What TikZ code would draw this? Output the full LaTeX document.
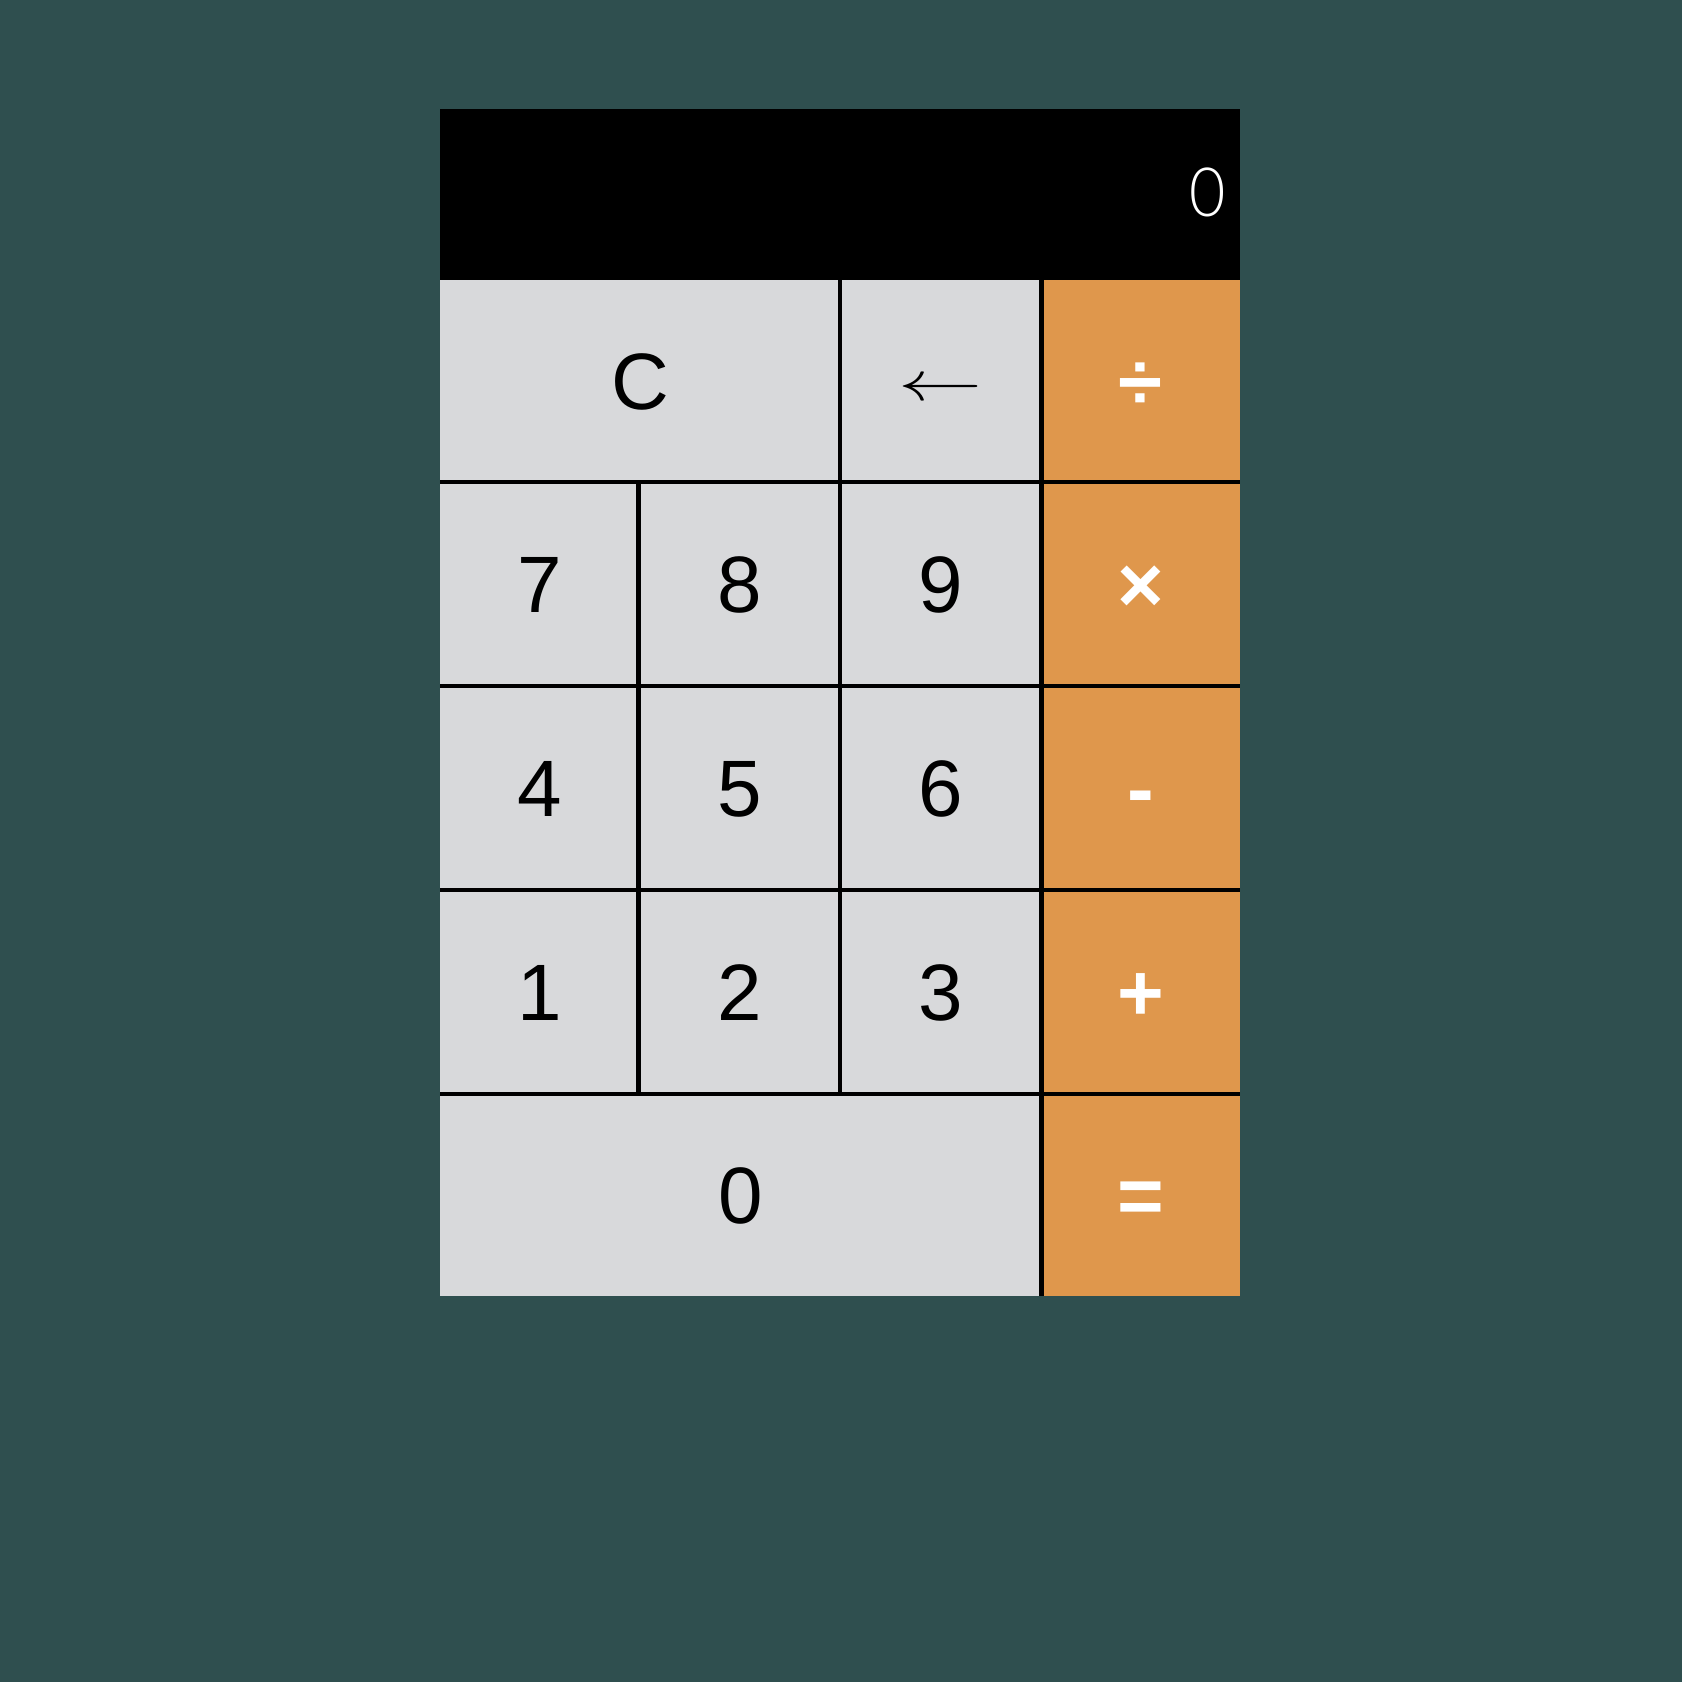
\documentclass[tikz,border=0pt]{standalone}
\usepackage{fontspec}
\setmainfont{Liberation Sans}
\newfontfamily\thinfont{Lato Light}
\definecolor{bgc}{HTML}{2F4F4F}
\definecolor{keyc}{HTML}{D8D9DB}
\definecolor{opc}{HTML}{DF974C}
\begin{document}
\begin{tikzpicture}[x=1pt,y=-1pt,
  key/.style={fill=keyc, draw=none, inner sep=0pt, outer sep=0pt,
    text height=57pt, text depth=0pt, font=\fontsize{80}{96}\selectfont, text=black},
  opkey/.style={key, fill=opc, text=white, font=\fontsize{80}{96}\selectfont\bfseries},
  gridline/.style={line width=4.5pt, black}]
% background and fixed bounding box
\fill[bgc] (0,0) rectangle (1682,1682);
\useasboundingbox (0,0) rectangle (1682,1682);
% display
\node[fill=black, inner sep=0pt, outer sep=0pt, minimum width=800pt, minimum height=171pt] (disp) at (840,194.5) {};
\node[anchor=base east, inner sep=0pt, text=white, font=\thinfont\fontsize{68}{82}\selectfont] (dval) at (1226,216) {\scalebox{0.92}[1]{0}};
% row 1
\node[key, minimum width=400pt, minimum height=202pt] (bC) at (640,381) {C};
\node[key, minimum width=201.5pt, minimum height=202pt, text height=38.5pt] (bBS) at (940.75,381) {\scalebox{8.4}[5.6]{\fontsize{10}{12}\selectfont$\leftarrow$}};
\node[opkey, minimum width=198.5pt, minimum height=202pt] (bDiv) at (1140.75,381) {÷};
% row 2
\node[key, minimum width=198.5pt, minimum height=204pt] (b7) at (539.25,584) {7};
\node[key, minimum width=201.5pt, minimum height=204pt] (b8) at (739.25,584) {8};
\node[key, minimum width=201.5pt, minimum height=204pt] (b9) at (940.75,584) {9};
\node[opkey, minimum width=198.5pt, minimum height=204pt] (bMul) at (1140.75,584) {×};
% row 3
\node[key, minimum width=198.5pt, minimum height=204pt] (b4) at (539.25,788) {4};
\node[key, minimum width=201.5pt, minimum height=204pt] (b5) at (739.25,788) {5};
\node[key, minimum width=201.5pt, minimum height=204pt] (b6) at (940.75,788) {6};
\node[opkey, minimum width=198.5pt, minimum height=204pt] (bSub) at (1140.75,788) {-};
% row 4
\node[key, minimum width=198.5pt, minimum height=204pt] (b1) at (539.25,992) {1};
\node[key, minimum width=201.5pt, minimum height=204pt] (b2) at (739.25,992) {2};
\node[key, minimum width=201.5pt, minimum height=204pt] (b3) at (940.75,992) {3};
\node[opkey, minimum width=198.5pt, minimum height=204pt] (bAdd) at (1140.75,992) {+};
% row 5
\node[key, minimum width=601.5pt, minimum height=202pt] (b0) at (740.75,1195) {0};
\node[opkey, minimum width=198.5pt, minimum height=202pt] (bEq) at (1140.75,1195) {=};
% grid lines
\draw[gridline] (b7.north west) -- (bMul.north east);
\draw[gridline] (b4.north west) -- (bSub.north east);
\draw[gridline] (b1.north west) -- (bAdd.north east);
\draw[gridline] (b0.north west) -- (bEq.north east);
\draw[gridline] (bBS.north west) -- (b3.south west);
\draw[gridline] (b8.north west) -- (b2.south west);
\draw[gridline] (bDiv.north west) -- (bEq.south west);
\end{tikzpicture}
\end{document}
